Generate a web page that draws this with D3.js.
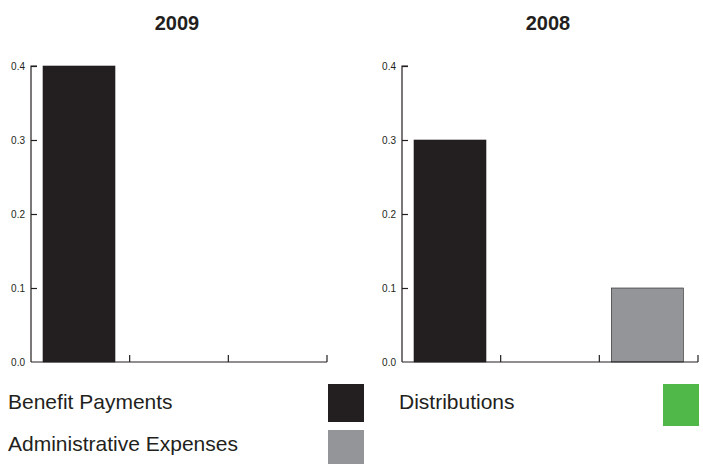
<!DOCTYPE html>
<html>
<head>
<meta charset="utf-8">
<script src="https://cdn.jsdelivr.net/npm/d3@7"></script>
<style>
  body { margin: 0; background: #fff; }
  svg { font-family: "Liberation Sans", Arial, sans-serif; }
</style>
</head>
<body>
<div id="chart"></div>
<script>
// data
var categories = ["Benefit Payments", "Distributions", "Administrative Expenses"];
var years = ["2009", "2008"];
var values2009 = [0.4, 0, 0];
var values2008 = [0.3, 0, 0.1];
var yTicks = [0.0, 0.1, 0.2, 0.3, 0.4];
var colors = ["#231f20", "#50b848", "#939598"];

let width = 703;
let height = 464;
let ink = "#231f20";

let svg = d3.select("#chart")
  .append("svg")
  .attr("width", width)
  .attr("height", height);

let color = d3.scaleOrdinal().domain(categories).range(colors);

let y = d3.scaleLinear()
  .domain([0, 0.4])
  .range([362, 66]);

// one panel per year
let panels = [
  {year: years[0], values: values2009, x0: 31},
  {year: years[1], values: values2008, x0: 402}
];

panels.forEach(function(p) {
  let x = d3.scaleBand()
    .domain(categories)
    .range([p.x0, p.x0 + 296])
    .paddingInner(0)
    .paddingOuter(0);

  let g = svg.append("g");

  g.append("text")
    .attr("x", p.x0 + 146)
    .attr("y", 30)
    .attr("text-anchor", "middle")
    .style("font-size", "20px")
    .style("font-weight", "bold")
    .style("fill", ink)
    .text(p.year);

  // bars
  g.selectAll("rect.bar")
    .data(categories.map((c, i) => ({cat: c, v: p.values[i]})).filter(d => d.v > 0))
    .enter()
    .append("rect")
    .attr("class", "bar")
    .attr("x", d => x(d.cat) + 12)
    .attr("width", 72)
    .attr("y", d => y(d.v))
    .attr("height", d => y(0) - y(d.v))
    .style("fill", d => color(d.cat))
    .style("stroke", ink)
    .style("stroke-width", "0.6px");

  // y axis, ticks point inward
  let yAxis = d3.axisRight(y)
    .tickValues(yTicks)
    .tickSize(6)
    .tickFormat(d3.format(".1f"));
  let ya = g.append("g")
    .attr("transform", "translate(" + p.x0 + ",0)")
    .call(yAxis)
    .attr("font-family", null)
    .attr("font-size", null);
  ya.select(".domain").attr("d", "M6,66H0V362").style("stroke", ink).style("stroke-width", "1.2px");
  ya.selectAll(".tick line").style("stroke", ink).style("stroke-width", "1.2px");
  ya.selectAll(".tick text")
    .attr("x", -6)
    .attr("dy", "0.38em")
    .attr("text-anchor", "end")
    .style("font-size", "10px")
    .style("fill", ink);
  ya.selectAll(".tick").filter(d => d === 0).select("line").remove();

  // x axis with ticks at band edges pointing up
  let edges = categories.map(c => x(c) + x.bandwidth());
  let xa = g.append("g");
  xa.append("line")
    .attr("x1", p.x0).attr("x2", p.x0 + 296)
    .attr("y1", y(0)).attr("y2", y(0))
    .style("stroke", ink).style("stroke-width", "1.2px");
  xa.selectAll("line.xt")
    .data(edges)
    .enter()
    .append("line")
    .attr("class", "xt")
    .attr("x1", d => d).attr("x2", d => d)
    .attr("y1", y(0)).attr("y2", y(0) - 7)
    .style("stroke", ink).style("stroke-width", "1.2px");
});

// legend: two columns
let legendPos = [
  {x: 8, y: 409, sx: 328, sy: 384, sh: 38},
  {x: 399, y: 409, sx: 663, sy: 384, sh: 42},
  {x: 8, y: 451, sx: 328, sy: 430, sh: 34}
];

let legend = svg.append("g");
categories.forEach(function(c, i) {
  let lp = legendPos[i];
  legend.append("text")
    .attr("x", lp.x)
    .attr("y", lp.y)
    .style("font-size", "21px")
    .style("fill", ink)
    .text(c);
  legend.append("rect")
    .attr("x", lp.sx)
    .attr("y", lp.sy)
    .attr("width", 36)
    .attr("height", lp.sh)
    .style("fill", color(c));
});
</script>
</body>
</html>
